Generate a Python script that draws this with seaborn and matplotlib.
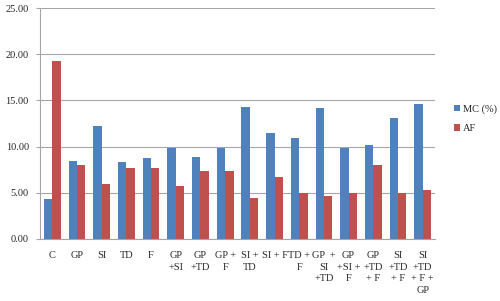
import numpy as np
import pandas as pd
import matplotlib
matplotlib.use("Agg")
import matplotlib.pyplot as plt
import seaborn as sns
from matplotlib.ticker import FormatStrFormatter, FixedLocator

categories = ["C", "GP", "SI", "TD", "F", "GP\n+SI", "GP\n+TD", "GP +\nF",
              "SI +\nTD", "SI + F", "TD +\nF", "GP  +\nSI\n+TD", "GP\n+SI +\nF",
              "GP\n+TD\n+ F", "SI\n+TD\n+ F", "SI\n+TD\n+ F +\nGP"]
mc = [4.3, 8.4, 12.2, 8.3, 8.8, 9.8, 8.9, 9.8, 14.3, 11.5, 10.9, 14.2, 9.8, 10.2, 13.1, 14.6]
af = [19.3, 8.0, 6.0, 7.7, 7.7, 5.7, 7.4, 7.4, 4.4, 6.7, 5.0, 4.7, 5.0, 8.0, 5.0, 5.3]
series = ["MC (%)", "AF"]

df = pd.DataFrame({
    "cat": categories * 2,
    "val": mc + af,
    "series": [series[0]] * len(mc) + [series[1]] * len(af),
})

sns.set_style("white")
plt.rcParams['font.family'] = ['Liberation Serif', 'DejaVu Serif']

fig = plt.figure(figsize=(5, 3.01), dpi=100)
ax = fig.add_axes([0.08, 0.206, 0.79, 0.767])

sns.barplot(data=df, x="cat", y="val", hue="series", order=categories,
            palette=["#4F81BD", "#C0504D"], width=0.68, saturation=1,
            linewidth=0, ax=ax, legend=True)

ax.set_ylim(0, 25)
ax.set_xlim(-0.5, len(categories) - 0.5)
ax.set_yticks(np.arange(0, 25.1, 5))
ax.yaxis.set_major_formatter(FormatStrFormatter('%.2f'))
ax.grid(axis='y', color='#A6A6A6', linewidth=0.8)
ax.set_axisbelow(True)
for s in ['top', 'right']:
    ax.spines[s].set_visible(False)
for s in ['left', 'bottom']:
    ax.spines[s].set_color('#A6A6A6')
    ax.spines[s].set_linewidth(0.8)

ax.set_xlabel("")
ax.set_ylabel("")
ax.tick_params(axis='x', which='major', length=0, labelsize=7.5, pad=9)
ax.xaxis.set_minor_locator(FixedLocator(np.arange(-0.5, len(categories), 1)))
ax.tick_params(axis='x', which='minor', length=4, color='#A6A6A6', width=0.8)
ax.tick_params(axis='y', length=3, color='#A6A6A6', labelsize=7.5, left=True, pad=5)
for lbl in ax.get_xticklabels():
    lbl.set_verticalalignment('top')
    lbl.set_linespacing(1.35)

ax.legend(loc='center left', bbox_to_anchor=(1.025, 0.52), frameon=False,
          fontsize=7.5, handlelength=0.6, handleheight=0.6, handletextpad=0.2,
          labelspacing=1.0)

fig.savefig("out.png", dpi=100)
